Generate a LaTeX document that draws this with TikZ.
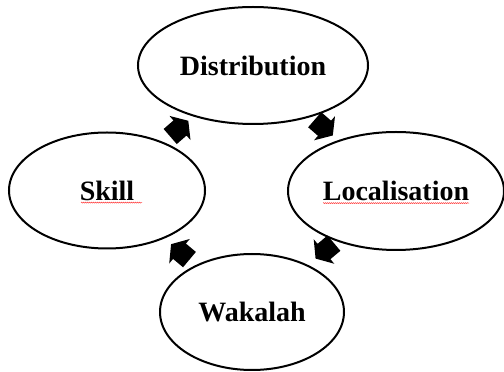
\documentclass[tikz,border=0pt]{standalone}
\usepackage{fontspec}
\setmainfont{Liberation Serif}
\usepackage{tikz}
\usetikzlibrary{positioning}
\usetikzlibrary{calc}
\usetikzlibrary{shapes.geometric}
\usetikzlibrary{decorations.pathmorphing}
\tikzset{
  bubble/.style={ellipse, draw, line width=2pt, inner sep=0pt,
    font=\fontsize{28}{30}\selectfont\bfseries},
  spell/.style={red!75, line width=0.5pt,
    decorate, decoration={snake, amplitude=0.5pt, segment length=2pt}}
}
% block arrow between two ellipses: #1, #2 node names, #3 angle
\newcommand{\cyclearrow}[3]{%
  \fill[shift={($(#1)!0.5!(#2)$)}, rotate=#3]
    (-13,-10) -- (0,-10) -- (0,-16) -- (11,0) -- (0,16) -- (0,10) -- (-13,10) -- cycle;}

\begin{document}
\begin{tikzpicture}[x=1pt,y=1pt]
            \useasboundingbox (0,0) rectangle (504,372);
            % the four ellipses
            \node[bubble, minimum width=230pt, minimum height=117pt] (dist) at (253,306.5) {Distribution};
            \node[bubble, minimum width=196pt, minimum height=116pt] (skill) at (107,181.5) {Skill};
            \node[bubble, minimum width=216pt, minimum height=118pt] (loc) at (396,181) {Localisation};
            \node[bubble, minimum width=184pt, minimum height=116pt] (wak) at (252,60) {Wakalah};
            % block arrows going round clockwise
            \cyclearrow{skill}{dist}{41}
            \cyclearrow{dist}{loc}{-41}
            \cyclearrow{loc}{wak}{-140}
            \cyclearrow{wak}{skill}{140}
            % spelling marks
            \draw[spell] ([xshift=-26pt,yshift=-2.5pt]skill.base) -- ([xshift=35pt,yshift=-2.5pt]skill.base);
            \draw[spell] ([xshift=-73pt,yshift=-2.5pt]loc.base) -- ([xshift=73pt,yshift=-2.5pt]loc.base);
        \end{tikzpicture}
\end{document}
